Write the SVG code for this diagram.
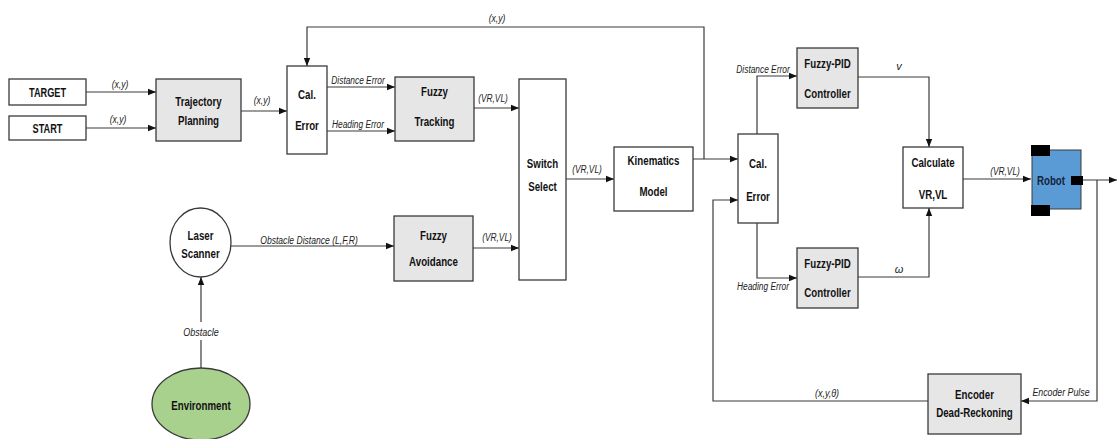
<svg xmlns="http://www.w3.org/2000/svg" width="1119" height="439" viewBox="0 0 1119 439">
<style>
.bx{fill:#fff;stroke:#3a3a3a;stroke-width:1.3}
.gb{fill:#e7e6e6;stroke:#3a3a3a;stroke-width:1.3}
.t{font-family:"Liberation Sans",Arial,sans-serif;font-weight:bold;font-size:13.5px;fill:#111;text-anchor:middle}
.l{font-family:"Liberation Sans",Arial,sans-serif;font-style:italic;font-size:11px;fill:#222;text-anchor:middle}
.c{fill:none;stroke:#3a3a3a;stroke-width:1.2;marker-end:url(#ah)}
</style>
<defs>
<marker id="ah" viewBox="0 0 8 8" refX="8" refY="4" markerWidth="8" markerHeight="8" markerUnits="userSpaceOnUse" orient="auto">
<path d="M0,0.8 L8,4 L0,7.2 Z" fill="#111"/>
</marker>
</defs>
<rect width="1119" height="439" fill="#fff"/>

<g id="connectors">
<path class="c" d="M86,92 H156"/>
<path class="c" d="M86,128 H156"/>
<path class="c" d="M241,111 H287"/>
<path class="c" d="M704,159 V27 H307 V66"/>
<path class="c" d="M327,87 H395"/>
<path class="c" d="M327,131 H395"/>
<path class="c" d="M474,108 H519"/>
<path class="c" d="M473,248 H519"/>
<path class="c" d="M231,246 H394"/>
<path class="c" d="M201,368 V277"/>
<path class="c" d="M566,179 H614"/>
<path class="c" d="M693,159 H738"/>
<path class="c" d="M757,134 V76 H797"/>
<path class="c" d="M757,223 V278 H797"/>
<path class="c" d="M858,77 H929 V147"/>
<path class="c" d="M858,277 H929 V208"/>
<path class="c" d="M963,179 H1031"/>
<path class="c" d="M1083,180 H1117"/>
<path class="c" d="M1097,180 V401 H1021"/>
<path class="c" d="M928,401 H713 V200 H738"/>
<rect x="180" y="322" width="42" height="18" fill="#fff"/>
<text class="l" transform="translate(120,88) scale(0.78,1)">(x,y)</text>
<text class="l" transform="translate(118,123) scale(0.78,1)">(x,y)</text>
<text class="l" transform="translate(262,104) scale(0.78,1)">(x,y)</text>
<text class="l" transform="translate(497,22) scale(0.78,1)">(x,y)</text>
<text class="l" transform="translate(358,84) scale(0.76,1)">Distance Error</text>
<text class="l" transform="translate(358,128) scale(0.76,1)">Heading Error</text>
<text class="l" transform="translate(493,102) scale(0.76,1)">(VR,VL)</text>
<text class="l" transform="translate(497,241) scale(0.76,1)">(VR,VL)</text>
<text class="l" transform="translate(587,173) scale(0.76,1)">(VR,VL)</text>
<text class="l" transform="translate(309,244) scale(0.78,1)">Obstacle Distance (L,F,R)</text>
<text class="l" transform="translate(201,336) scale(0.82,1)">Obstacle</text>
<text class="l" transform="translate(763,73) scale(0.76,1)">Distance Error</text>
<text class="l" transform="translate(763,290) scale(0.76,1)">Heading Error</text>
<text class="l" transform="translate(899,70)">v</text>
<text class="l" transform="translate(899,273)">ω</text>
<text class="l" transform="translate(1005,175) scale(0.76,1)">(VR,VL)</text>
<text class="l" transform="translate(827,397) scale(0.82,1)">(x,y,θ)</text>
<text class="l" transform="translate(1061,396) scale(0.8,1)">Encoder Pulse</text>
</g>

<g id="target">
<rect class="bx" x="9" y="79" width="77" height="26"/>
<text class="t" transform="translate(47.5,97) scale(0.68,1)">TARGET</text>
</g>
<g id="start">
<rect class="bx" x="9" y="116" width="77" height="24"/>
<text class="t" transform="translate(47.5,133) scale(0.68,1)">START</text>
</g>
<g id="trajectory-planning">
<rect class="gb" x="156" y="79" width="85" height="62"/>
<text class="t" transform="translate(198.5,105.5) scale(0.72,1)">Trajectory</text>
<text class="t" transform="translate(198.5,124.5) scale(0.72,1)">Planning</text>
</g>
<g id="cal-error-1">
<rect class="bx" x="287" y="66" width="40" height="88"/>
<text class="t" transform="translate(307,98.5) scale(0.72,1)">Cal.</text>
<text class="t" transform="translate(307,129.5) scale(0.72,1)">Error</text>
</g>
<g id="fuzzy-tracking">
<rect class="gb" x="395" y="77" width="79" height="64"/>
<text class="t" transform="translate(434.5,95.5) scale(0.72,1)">Fuzzy</text>
<text class="t" transform="translate(434.5,125.5) scale(0.72,1)">Tracking</text>
</g>
<g id="switch-select">
<rect class="bx" x="519" y="79" width="47" height="201"/>
<text class="t" transform="translate(542.5,167.5) scale(0.72,1)">Switch</text>
<text class="t" transform="translate(542.5,190.5) scale(0.72,1)">Select</text>
</g>
<g id="kinematics-model">
<rect class="bx" x="614" y="147" width="79" height="64"/>
<text class="t" transform="translate(653.5,164.5) scale(0.72,1)">Kinematics</text>
<text class="t" transform="translate(653.5,195.5) scale(0.72,1)">Model</text>
</g>
<g id="cal-error-2">
<rect class="bx" x="738" y="134" width="40" height="89"/>
<text class="t" transform="translate(758,167.5) scale(0.72,1)">Cal.</text>
<text class="t" transform="translate(758,200.5) scale(0.72,1)">Error</text>
</g>
<g id="fuzzy-pid-1">
<rect class="gb" x="797" y="48" width="61" height="60"/>
<text class="t" transform="translate(827.5,67.5) scale(0.72,1)">Fuzzy-PID</text>
<text class="t" transform="translate(827.5,97.5) scale(0.72,1)">Controller</text>
</g>
<g id="fuzzy-pid-2">
<rect class="gb" x="797" y="248" width="61" height="60"/>
<text class="t" transform="translate(827.5,267.5) scale(0.72,1)">Fuzzy-PID</text>
<text class="t" transform="translate(827.5,296.5) scale(0.72,1)">Controller</text>
</g>
<g id="calculate">
<rect class="bx" x="903" y="147" width="60" height="61"/>
<text class="t" transform="translate(933,166.5) scale(0.72,1)">Calculate</text>
<text class="t" transform="translate(933,198.5) scale(0.72,1)">VR,VL</text>
</g>
<g id="robot">
<rect x="1032" y="150" width="49" height="59" fill="#5b9bd5" stroke="#3a3a3a" stroke-width="1"/>
<rect x="1031" y="145" width="19" height="11" fill="#000"/>
<rect x="1031" y="205" width="19" height="11" fill="#000"/>
<rect x="1071" y="176" width="12" height="9" fill="#000"/>
<text class="t" transform="translate(1051,184.5) scale(0.72,1)" style="fill:#14223a">Robot</text>
</g>
<g id="laser-scanner">
<ellipse class="bx" cx="200.5" cy="242.5" rx="30.5" ry="34.5"/>
<text class="t" transform="translate(200.5,239.5) scale(0.72,1)">Laser</text>
<text class="t" transform="translate(200.5,257.5) scale(0.72,1)">Scanner</text>
</g>
<g id="fuzzy-avoidance">
<rect class="gb" x="394" y="216" width="79" height="65"/>
<text class="t" transform="translate(433.5,239.5) scale(0.72,1)">Fuzzy</text>
<text class="t" transform="translate(433.5,265.5) scale(0.72,1)">Avoidance</text>
</g>
<g id="environment">
<ellipse cx="201" cy="404" rx="49" ry="36" fill="#a9d18e" stroke="#3a3a3a" stroke-width="1.3"/>
<text class="t" transform="translate(201,409.5) scale(0.72,1)">Environment</text>
</g>
<g id="encoder">
<rect class="gb" x="928" y="374" width="93" height="60"/>
<text class="t" transform="translate(974.5,398.5) scale(0.72,1)">Encoder</text>
<text class="t" transform="translate(974.5,416.5) scale(0.72,1)">Dead-Reckoning</text>
</g>
</svg>
